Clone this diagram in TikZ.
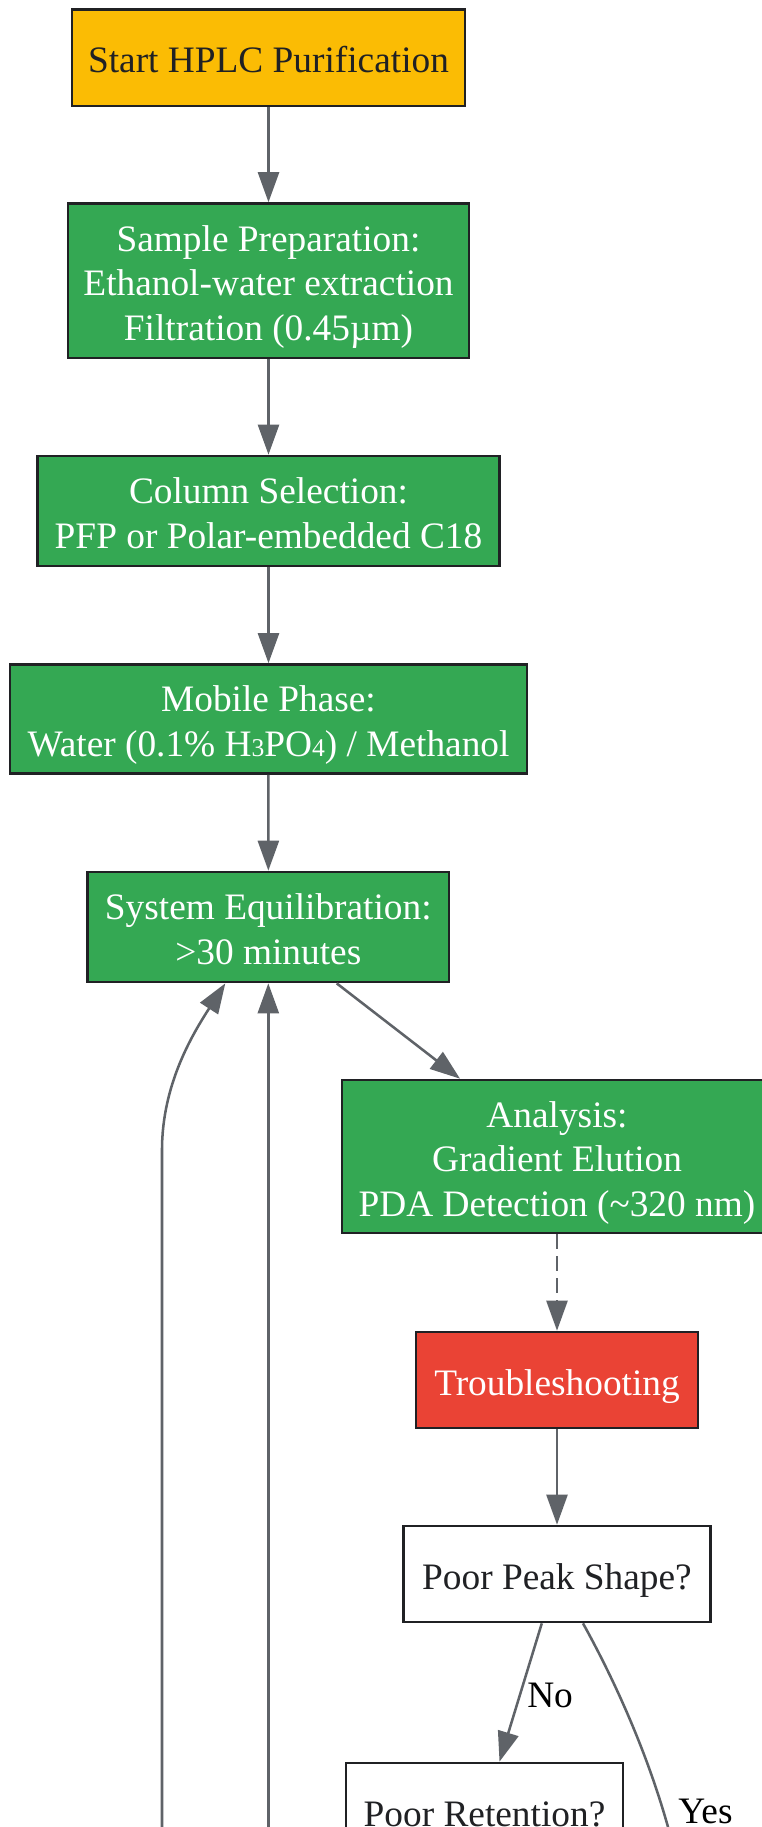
\documentclass[tikz,border=0pt]{standalone}
\usepackage{fontspec}
\setmainfont{Liberation Serif}
\usetikzlibrary{calc,arrows.meta}
\definecolor{cyellow}{HTML}{FBBC04}
\definecolor{cgreen}{HTML}{34A853}
\definecolor{cred}{HTML}{EA4335}
\definecolor{cedge}{HTML}{5F6368}
\definecolor{cborder}{HTML}{202124}
\newcommand{\myline}[1]{\raisebox{0pt}[0.81em][0pt]{#1}}
\newcommand{\smalldig}[1]{{\fontsize{19.2}{19.2}\selectfont #1}}
\tikzset{
  box/.style={draw=cborder, line width=2pt, rectangle, inner sep=0pt, align=center,
    font=\fontsize{28}{33.3}\selectfont},
  startbox/.style={box, fill=cyellow, text=cborder},
  greenbox/.style={box, fill=cgreen, text=white},
  redbox/.style={box, fill=cred, text=white},
  whitebox/.style={box, fill=white, text=cborder},
  conn/.style={draw=cedge, line width=1.9pt, -{Triangle[length=22.5pt,width=15.75pt]}},
  elabel/.style={font=\fontsize{28}{33.3}\selectfont, text=black, inner sep=0pt},
}
\begin{document}
\begin{tikzpicture}[x=0.75pt,y=-0.75pt]
\useasboundingbox (0,0) rectangle (762,1827);
\clip (0,0) rectangle (762,1827);
\fill[white] (0,0) rectangle (762,1827);

\node[startbox, minimum width=393*0.75pt, minimum height=96.8*0.75pt] (start) at (268.5,57.6) {\myline{Start HPLC Purification}};
\node[greenbox, minimum width=401*0.75pt, minimum height=154.5*0.75pt] (sample) at (268.5,280.8) {\myline{Sample Preparation:}\\\myline{Ethanol-water extraction}\\\myline{Filtration (0.45µm)}};
\node[greenbox, minimum width=462*0.75pt, minimum height=110*0.75pt] (column) at (268.5,511) {\myline{Column Selection:}\\\myline{PFP or Polar-embedded C18}};
\node[greenbox, minimum width=517*0.75pt, minimum height=109*0.75pt] (mobile) at (268.5,719) {\myline{Mobile Phase:}\\\myline{Water (0.1\% H\smalldig{3}PO\smalldig{4}) / Methanol}};
\node[greenbox, minimum width=361.5*0.75pt, minimum height=110*0.75pt] (syseq) at (268.3,927) {\myline{System Equilibration:}\\\myline{>30 minutes}};
\node[greenbox, minimum width=430*0.75pt, minimum height=153*0.75pt] (analysis) at (557,1156.5) {\myline{Analysis:}\\\myline{Gradient Elution}\\\myline{PDA Detection (\textasciitilde320 nm)}};
\node[redbox, minimum width=282*0.75pt, minimum height=96*0.75pt] (trouble) at (557,1380) {\myline{Troubleshooting}};
\node[whitebox, minimum width=306.5*0.75pt, minimum height=96*0.75pt] (peak) at (557,1574) {\myline{Poor Peak Shape?}};
\node[whitebox, minimum width=277*0.75pt, minimum height=96*0.75pt] (retention) at (484.5,1811) {\myline{Poor Retention?}};

\coordinate (loopA) at (162,1900);
\coordinate (loopB) at (268.3,1900);
\coordinate (yesend) at (690,1900);

\draw[conn] (start) -- (sample);
\draw[conn] (sample) -- (column);
\draw[conn] (column) -- (mobile);
\draw[conn] (mobile) -- (syseq);
\draw[conn] ($(syseq.south)+(68.4,0)$) -- ($(analysis.north)+(-97,0)$);
\draw[conn, dash pattern=on 11pt off 5.5pt] (analysis) -- (trouble);
\draw[conn] (trouble) -- (peak);
\draw[conn] ($(peak.south)+(-15.2,0)$) -- ($(retention.north)+(15,0)$);
\node[elabel, anchor=base west] (nolabel) at (527,1707) {No};
\draw[draw=cedge, line width=1.9pt] ($(peak.south)+(26,0)$) .. controls (610,1672) and (645,1745) .. (668,1827) -- (yesend);
\node[elabel, anchor=base west] (yeslabel) at (678,1823) {Yes};
\draw[conn] (loopA) -- (162,1150) .. controls (162,1085) and (192,1035) .. ($(syseq.south)+(-43,0)$);
\draw[conn] (loopB) -- (syseq.south);
\end{tikzpicture}
\end{document}
